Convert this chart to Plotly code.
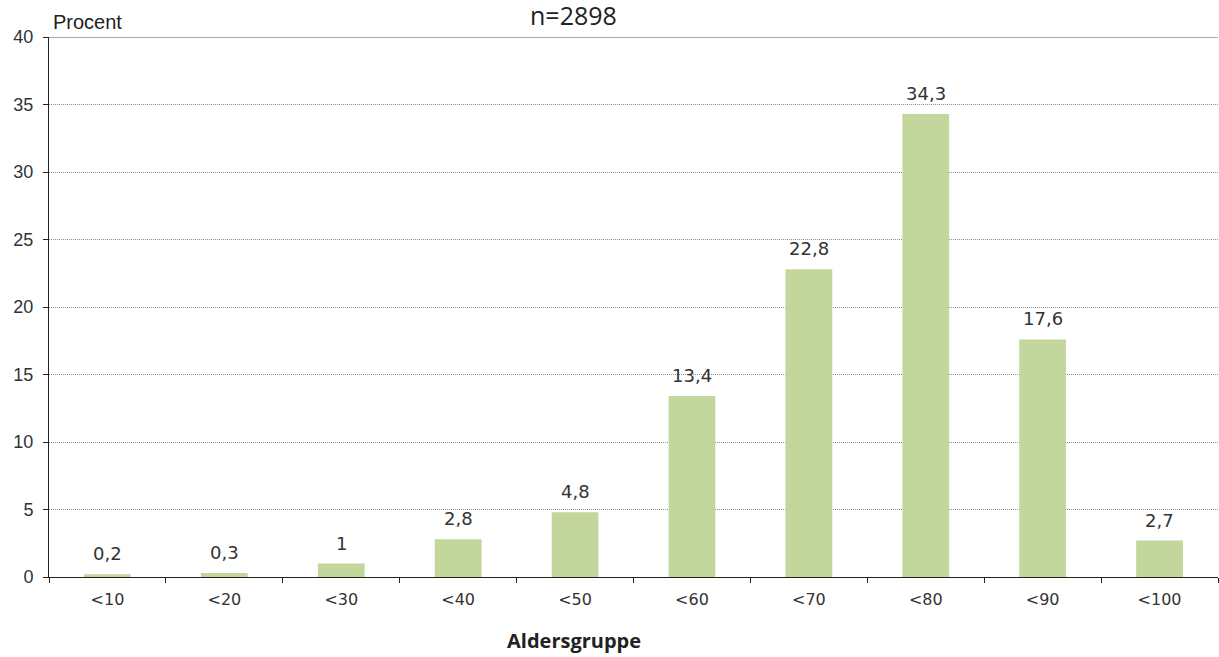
import plotly.graph_objects as go

# Age groups and share of patients (percent)
categories = ["<10", "<20", "<30", "<40", "<50", "<60", "<70", "<80", "<90", "<100"]
percent = [0.2, 0.3, 1, 2.8, 4.8, 13.4, 22.8, 34.3, 17.6, 2.7]
labels = [str(v).replace(".", ",") for v in percent]
y_ticks = [0, 5, 10, 15, 20, 25, 30, 35, 40]

text_color = "#333333"

fig = go.Figure(
    go.Bar(
        x=categories,
        y=percent,
        marker=dict(color="#C3D69B", line=dict(width=0)),
        width=0.4,
    )
)

# Value labels above each bar
for cat, val, lab in zip(categories, percent, labels):
    fig.add_annotation(
        x=cat, y=val, text=lab, showarrow=False,
        xanchor="center", yanchor="bottom", yshift=8,
        font=dict(family="DejaVu Sans", size=18, color=text_color),
    )

fig.update_layout(
    width=1219,
    height=657,
    margin=dict(l=49, r=1, t=37, b=80),
    paper_bgcolor="white",
    plot_bgcolor="white",
    showlegend=False,
    bargap=0.6,
)

fig.update_xaxes(
    type="category",
    showline=True,
    linecolor="#222222",
    linewidth=1,
    ticks="outside",
    tickson="boundaries",
    ticklen=5,
    tickcolor="#222222",
    ticklabelstandoff=8,
    tickfont=dict(family="DejaVu Sans", size=16, color=text_color),
    showgrid=False,
)

fig.update_yaxes(
    range=[0, 40],
    tickvals=y_ticks,
    showline=True,
    linecolor="#222222",
    linewidth=1,
    ticks="outside",
    ticklen=5,
    tickcolor="#222222",
    ticklabelstandoff=6,
    tickfont=dict(family="Liberation Sans", size=18, color=text_color),
    showgrid=True,
    gridcolor="#8c8c8c",
    griddash="1px,1px",
    gridwidth=1,
    zeroline=False,
)

# Solid top border at 40
fig.add_shape(
    type="line", xref="paper", yref="y", x0=0, x1=1, y0=40, y1=40,
    line=dict(color="#8a8a8a", width=1.5),
)

fig.add_annotation(
    text="Procent", xref="paper", yref="paper", x=0.0, y=1, xanchor="left",
    yanchor="bottom", xshift=2, yshift=2, showarrow=False,
    font=dict(family="Liberation Sans", size=20, color="#222222"),
)

fig.add_annotation(
    text="n=2898", xref="paper", yref="paper", x=0.449, y=1, xanchor="center",
    yanchor="bottom", yshift=6, height=28, valign="middle", showarrow=False,
    font=dict(family="Open Sans", size=25, color="#222222"),
)

fig.add_annotation(
    text="<b>Aldersgruppe</b>", xref="paper", yref="paper", x=0.449, y=0,
    xanchor="center", yanchor="middle", yshift=-63, showarrow=False,
    font=dict(family="Open Sans", size=20, color="#222222"),
)

fig.write_html("out.html")
